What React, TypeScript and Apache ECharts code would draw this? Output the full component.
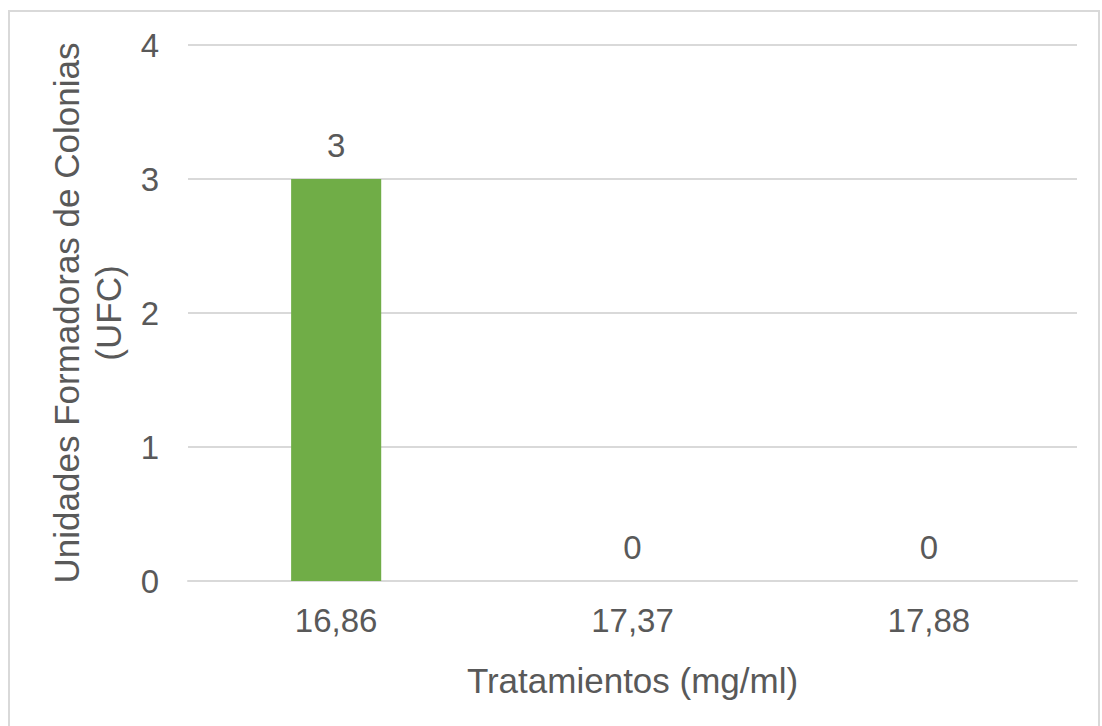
import React, { useEffect, useRef } from "react";
import * as echarts from "echarts";

// Treatment concentrations (mg/ml) and colony counts (UFC)
const categories: string[] = ["16,86", "17,37", "17,88"];
const colonyCounts: number[] = [3, 0, 0];
const yTicks = { min: 0, max: 4, interval: 1 };

const TEXT = "#595959";
const GRID = "#d9d9d9";
const FONT = "'Liberation Sans', Arial, sans-serif";

export default function App() {
  const ref = useRef<HTMLDivElement>(null);

  useEffect(() => {
    if (!ref.current) return;
    const chart = echarts.init(ref.current, null, { renderer: "svg" });
    chart.setOption({
      animation: false,
      backgroundColor: "#ffffff",
      textStyle: { fontFamily: FONT },
      graphic: [
        {
          type: "rect",
          shape: { x: 9, y: 11, width: 1090, height: 740 },
          style: { fill: "none", stroke: GRID, lineWidth: 2 },
          silent: true,
        },
      ],
      grid: { left: 188, right: 25, top: 45, bottom: 145 },
      xAxis: {
        type: "category",
        data: categories,
        axisTick: { show: false },
        axisLine: { show: true, lineStyle: { color: GRID, width: 2 } },
        axisLabel: { color: TEXT, fontSize: 33, fontFamily: FONT, margin: 23 },
        name: "Tratamientos (mg/ml)",
        nameLocation: "middle",
        nameGap: 82,
        nameTextStyle: { color: TEXT, fontSize: 35, fontFamily: FONT },
      },
      yAxis: {
        type: "value",
        min: yTicks.min,
        max: yTicks.max,
        interval: yTicks.interval,
        axisLine: { show: false },
        axisTick: { show: false },
        splitLine: { lineStyle: { color: GRID, width: 2 } },
        axisLabel: { color: TEXT, fontSize: 33, fontFamily: FONT, margin: 29 },
        name: "Unidades Formadoras de Colonias\n(UFC)",
        nameLocation: "middle",
        nameGap: 90,
        nameTextStyle: {
          color: TEXT,
          fontSize: 35,
          fontFamily: FONT,
          lineHeight: 42,
          align: "center",
          verticalAlign: "middle",
        },
      },
      series: [
        {
          type: "bar",
          data: colonyCounts,
          barWidth: "30.4%",
          itemStyle: { color: "#70ad47" },
          label: {
            show: true,
            position: "top",
            distance: 17,
            color: TEXT,
            fontSize: 33,
            fontFamily: FONT,
          },
        },
      ],
    });
    return () => chart.dispose();
  }, []);

  return (
    <div
      ref={ref}
      style={{ position: "absolute", left: 0, top: 0, width: 1102, height: 726 }}
    />
  );
}
